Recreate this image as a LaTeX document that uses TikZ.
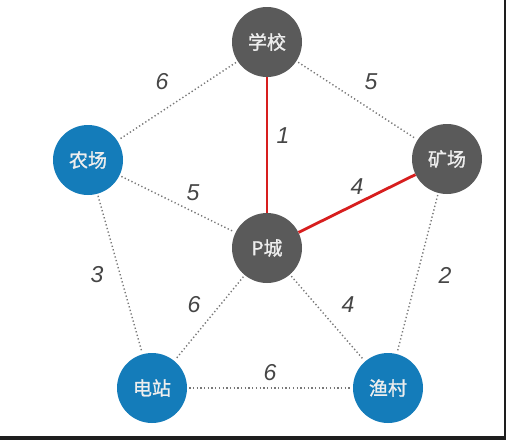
\documentclass[tikz,border=0pt]{standalone}
\usepackage{fontspec}
\setmainfont{Liberation Sans}
\newfontfamily\cjk[FakeBold=1.2]{Noto Sans CJK SC}
\definecolor{nodegray}{RGB}{90,90,90}
\definecolor{nodeblue}{RGB}{20,124,186}
\definecolor{edgegray}{RGB}{120,120,120}
\definecolor{labelgray}{RGB}{70,70,70}
\definecolor{redline}{RGB}{215,30,30}
\definecolor{txtlight}{RGB}{238,238,238}
\definecolor{frame}{RGB}{30,30,30}
\tikzset{
  vert/.style={circle, minimum size=70pt, inner sep=0pt, text=txtlight, font=\cjk\fontsize{19}{21}\selectfont},
  grayv/.style={vert, fill=nodegray},
  bluev/.style={vert, fill=nodeblue},
  dotedge/.style={draw=edgegray, line width=1.4pt, dash pattern=on 1.3pt off 2.4pt, shorten <=2pt, shorten >=2pt},
  rededge/.style={draw=redline, line width=2.8pt},
  wlabel/.style={text=labelgray, font=\fontsize{23}{24}\selectfont\itshape, inner sep=0pt}
}
\begin{document}
\begin{tikzpicture}[x=1pt,y=-1pt]
\useasboundingbox (0,0) rectangle (506,440);
\fill[white] (0,0) rectangle (506,440);
\fill[frame] (0,436) rectangle (506,440);
\fill[frame] (504,0) rectangle (506,440);
% nodes
\node[grayv] (school) at (267,42) {学校};
\node[bluev] (farm) at (88,160) {农场};
\node[grayv] (mine) at (447,159) {矿场};
\node[grayv] (city) at (267,248) {P城};
\node[bluev] (power) at (152,388) {电站};
\node[bluev] (fish) at (388,388) {渔村};
% edges
\path[dotedge] (school) -- (farm);
\path[dotedge] (school) -- (mine);
\path[dotedge] (farm) -- (city);
\path[dotedge] (farm) -- (power);
\path[dotedge] (mine) -- (fish);
\path[dotedge] (city) -- (power);
\path[dotedge] (city) -- (fish);
\path[dotedge] (power) -- (fish);
\path[rededge] (school) -- (city);
\path[rededge] (city) -- (mine);
% labels
\node[wlabel] (l1) at (162,82) {6};
\node[wlabel] (l2) at (371,82) {5};
\node[wlabel] (l3) at (283,136) {1};
\node[wlabel] (l4) at (193,193) {5};
\node[wlabel] (l5) at (357,187) {4};
\node[wlabel] (l6) at (97,275) {3};
\node[wlabel] (l7) at (445,275) {2};
\node[wlabel] (l8) at (194,305) {6};
\node[wlabel] (l9) at (348,305) {4};
\node[wlabel] (l10) at (270,373) {6};
\end{tikzpicture}
\end{document}
